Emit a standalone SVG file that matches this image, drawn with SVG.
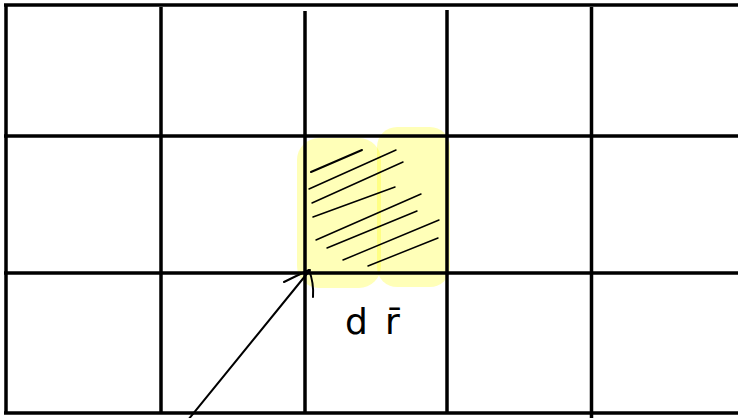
<svg xmlns="http://www.w3.org/2000/svg" width="738" height="418" viewBox="0 0 738 418">
<style>
.grid{stroke:#000;stroke-width:3.5;fill:none;stroke-linecap:butt}
.hl{fill:#ffff00;fill-opacity:0.28}
.hatch{stroke:#000;stroke-width:1.5;fill:none;stroke-linecap:round}
.pen{stroke:#000;stroke-width:2;fill:none;stroke-linecap:round}
.lbl{font-family:"DejaVu Sans","Liberation Sans",sans-serif;font-size:36px;fill:#000}
</style>
<rect width="738" height="418" fill="#fff"/>
<g id="highlight">
<rect class="hl" x="297" y="138" width="84" height="150" rx="22"/>
<rect class="hl" x="377" y="127" width="73" height="160" rx="20"/>
</g>
<g id="grid">
<line class="grid" x1="4" y1="5" x2="738" y2="5"/>
<line class="grid" x1="4" y1="136" x2="738" y2="136"/>
<line class="grid" x1="4" y1="273" x2="738" y2="273"/>
<line class="grid" x1="4" y1="413" x2="738" y2="413"/>
<line class="grid" x1="6" y1="5" x2="6" y2="413"/>
<line class="grid" x1="161" y1="7" x2="161" y2="413"/>
<line class="grid" x1="305" y1="11" x2="305" y2="413"/>
<line class="grid" x1="447" y1="10" x2="447" y2="413"/>
<line class="grid" x1="591.5" y1="7" x2="591.5" y2="418"/>
</g>
<g id="hatching">
<line class="hatch" x1="311" y1="172" x2="362" y2="150" style="stroke-width:2"/>
<line class="hatch" x1="309" y1="189" x2="396" y2="150"/>
<line class="hatch" x1="312" y1="203" x2="403" y2="162"/>
<line class="hatch" x1="313" y1="217" x2="395" y2="187"/>
<line class="hatch" x1="316" y1="240" x2="421" y2="194"/>
<line class="hatch" x1="327" y1="248" x2="417" y2="211"/>
<line class="hatch" x1="343" y1="260" x2="439" y2="220"/>
<line class="hatch" x1="368" y1="266" x2="438" y2="238"/>
</g>
<g id="connectors">
<line class="pen" x1="188" y1="420" x2="310" y2="270"/>
<path class="pen" d="M284,282 Q296,276 309,270"/>
<path class="pen" d="M309,270 Q314,283 313,297"/>
</g>
<g id="label">
<text class="lbl" y="334"><tspan x="345">d</tspan><tspan x="385">r̄</tspan></text>
</g>
</svg>
